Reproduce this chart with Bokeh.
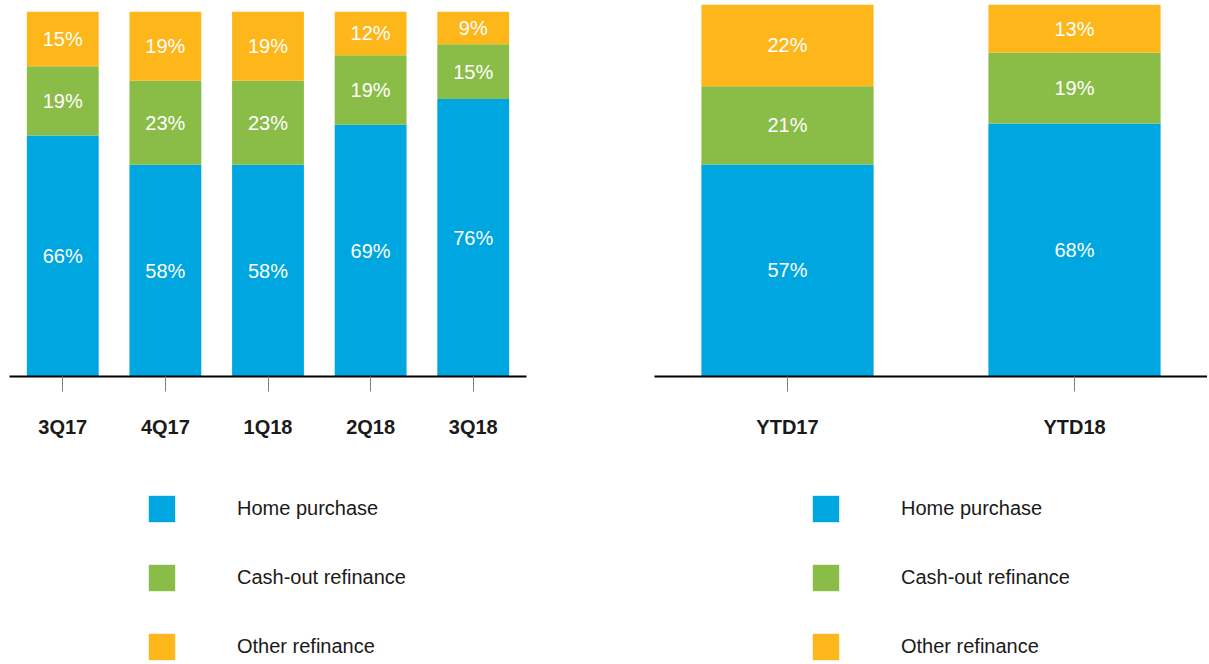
from bokeh.plotting import figure
from bokeh.models import FactorRange, Range1d, ColumnDataSource, Legend, LegendItem
from bokeh.layouts import row, column
from bokeh.embed import file_html
from bokeh.resources import INLINE
from bokeh.core.properties import value

# ---- data ----
quarters = ["3Q17", "4Q17", "1Q18", "2Q18", "3Q18"]
q_home = [66, 58, 58, 69, 76]
q_cash = [19, 23, 23, 19, 15]
q_other = [15, 19, 19, 12, 9]

years = ["YTD17", "YTD18"]
y_home = [57, 68]
y_cash = [21, 19]
y_other = [22, 13]

series = ["Home purchase", "Cash-out refinance", "Other refinance"]
colors = ["#00A6E0", "#8ABD47", "#FDB71B"]

FONT = "'Liberation Sans', Arial, Helvetica, sans-serif"
TEXT_COLOR = "#1a1a1a"


def make_chart(cats, home, cash, other, bar_width, pad, frame_width, frame_height,
               border_top, border_left, border_right, height):
    src = ColumnDataSource(dict(cat=cats, home=home, cash=cash, other=other))
    p = figure(x_range=FactorRange(factors=cats, range_padding=pad, range_padding_units="absolute"),
               y_range=Range1d(0, 100), width=border_left + frame_width + border_right, height=height,
               output_backend="svg", toolbar_location=None, y_axis_location=None,
               min_border_top=border_top, min_border_left=border_left,
               min_border_right=border_right, min_border_bottom=height - border_top - frame_height)
    p.vbar_stack(["home", "cash", "other"], x="cat", width=bar_width, color=colors,
                 line_color=None, source=src)
    # segment labels, centred in each segment
    xs, ys, txt = [], [], []
    for i, c in enumerate(cats):
        bottom = 0
        for vals in (home, cash, other):
            v = vals[i]
            xs.append(c)
            ys.append(bottom + v / 2)
            txt.append(f"{v}%")
            bottom += v
    lsrc = ColumnDataSource(dict(x=xs, y=ys, t=txt))
    p.text(x="x", y="y", text="t", source=lsrc, text_color="white", text_align="center",
           text_baseline="middle", text_font=value(FONT), text_font_size="20px")
    p.xgrid.grid_line_color = None
    p.ygrid.grid_line_color = None
    p.outline_line_color = None
    ax = p.xaxis[0]
    ax.axis_line_color = "black"
    ax.axis_line_width = 2
    ax.major_tick_line_color = "#808080"
    ax.major_tick_line_width = 1
    ax.major_tick_out = 15
    ax.major_tick_in = 0
    ax.minor_tick_line_color = None
    ax.major_label_text_font = FONT
    ax.major_label_text_font_size = "20px"
    ax.major_label_text_font_style = "bold"
    ax.major_label_text_color = TEXT_COLOR
    ax.major_label_standoff = 24
    return p


def make_legend_fig(width, height, x_off):
    lf = figure(width=width, height=height, x_range=Range1d(0, 1), y_range=Range1d(0, 1),
                output_backend="svg", toolbar_location=None, x_axis_location=None,
                y_axis_location=None, min_border=0)
    lf.xgrid.grid_line_color = None
    lf.ygrid.grid_line_color = None
    lf.outline_line_color = None
    items = []
    for name, col in zip(series, colors):
        # zero-size placeholder glyph: only its legend swatch is shown
        r = lf.vbar(x=[0], top=[0], width=0, fill_color=col, line_color=None)
        items.append(LegendItem(label=name, renderers=[r]))
    leg = Legend(items=items, location=(x_off, 0), orientation="vertical",
                 glyph_width=33, glyph_height=33, label_height=33, label_standoff=59, spacing=36,
                 padding=0, margin=0, border_line_color=None, background_fill_alpha=0,
                 label_text_font=FONT, label_text_font_size="20px", label_text_color=TEXT_COLOR)
    lf.add_layout(leg)
    return lf


CH_H = 452
LEG_H = 211

left = make_chart(quarters, q_home, q_cash, q_other, 0.7, 0.019, 517, 365, 11, 9, 128, CH_H)
right = make_chart(years, y_home, y_cash, y_other, 0.6, -0.0366, 553, 372, 4, 0, 0, CH_H)

left_leg = make_legend_fig(654, LEG_H, 136)
right_leg = make_legend_fig(553, LEG_H, 155)

layout = row(column(left, left_leg, spacing=0), column(right, right_leg, spacing=0), spacing=0)

open("out.html", "w").write(file_html(layout, INLINE))
